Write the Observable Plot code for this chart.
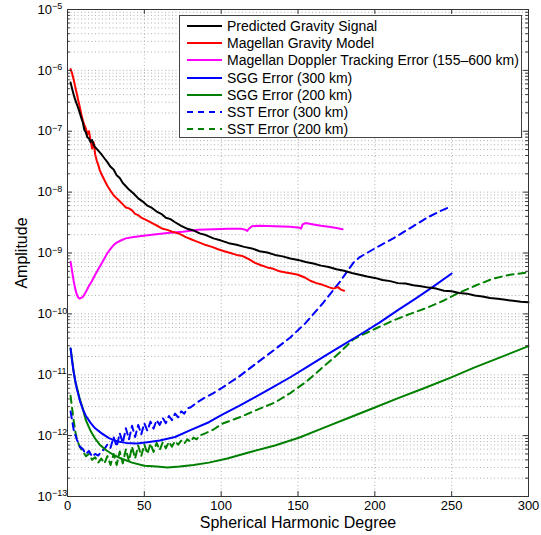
<!DOCTYPE html>
<html><head><meta charset="utf-8">
<script src="https://cdn.jsdelivr.net/npm/d3@7"></script>
<script src="https://cdn.jsdelivr.net/npm/@observablehq/plot@0.6"></script>
<style>
body{margin:0;background:#fff;}
#wrap{position:relative;width:541px;height:535px;font-family:"Liberation Sans",Arial,Helvetica,sans-serif;}
#legend{position:absolute;left:179px;top:15px;width:341px;height:120px;border:1px solid #444;background:#fff;padding-top:1px;}
.row{height:17.3px;display:flex;align-items:center;font-size:14px;color:#000;white-space:nowrap;}
.row svg{margin-left:7px;margin-right:5px;flex:none;}
</style></head><body><div id="wrap"></div>
<script>
const xTicks = [0, 50, 100, 150, 200, 250, 300];
const yMajor = [1e-13, 1e-12, 1e-11, 1e-10, 1e-9, 1e-8, 1e-7, 1e-6, 1e-5];

const predictedSignal = [[2,6.3e-7],[3,5.0e-7],[4,4.0e-7],[5,3.3e-7],[6,2.8e-7],[7,2.4e-7],[8,2.0e-7],[9,1.66e-7],[10,1.38e-7],[11,1.05e-7],[12,9.5e-8],[13,7.9e-8],[14,7.6e-8],[15,6.6e-8],[16,7.2e-8],[17,6.0e-8],[18,5.5e-8],[20,4.8e-8],[22,4.2e-8],[24,3.6e-8],[26,3.1e-8],[28,2.6e-8],[30,2.35e-8],[32,1.9e-8],[34,1.7e-8],[36,1.41e-8],[38,1.25e-8],[40,1.1e-8],[43,9.5e-9],[46,7.9e-9],[49,7.0e-9],[52,6.0e-9],[55,5.5e-9],[58,4.8e-9],[61,4.4e-9],[64,3.8e-9],[67,3.6e-9],[70,3.2e-9],[74,2.8e-9],[78,2.5e-9],[82,2.35e-9],[86,2.1e-9],[90,1.97e-9],[95,1.74e-9],[100,1.6e-9],[105,1.45e-9],[110,1.37e-9],[115,1.26e-9],[120,1.19e-9],[125,1.07e-9],[130,1.02e-9],[135,9.3e-10],[140,8.8e-10],[145,8.1e-10],[150,7.7e-10],[155,7.1e-10],[160,6.7e-10],[165,6.2e-10],[170,5.9e-10],[175,5.4e-10],[180,5.1e-10],[185,4.7e-10],[190,4.4e-10],[195,4.1e-10],[200,3.9e-10],[205,3.6e-10],[210,3.45e-10],[215,3.2e-10],[220,3.15e-10],[225,2.95e-10],[230,2.85e-10],[235,2.7e-10],[240,2.6e-10],[245,2.4e-10],[250,2.35e-10],[255,2.2e-10],[260,2.15e-10],[265,2.0e-10],[270,1.93e-10],[275,1.82e-10],[280,1.77e-10],[285,1.7e-10],[290,1.64e-10],[295,1.58e-10],[300,1.55e-10]];

const magellanModel = [[2,1.05e-6],[3,8.9e-7],[4,7.1e-7],[5,5.4e-7],[6,4.2e-7],[7,3.2e-7],[8,2.5e-7],[9,1.9e-7],[10,1.5e-7],[11,1.26e-7],[12,1.1e-7],[13,8.9e-8],[14,1.0e-7],[15,7.1e-8],[16,5.2e-8],[17,6.6e-8],[18,4.2e-8],[19,3.3e-8],[20,2.8e-8],[21,2.3e-8],[22,2.0e-8],[24,1.58e-8],[26,1.26e-8],[28,1.05e-8],[30,8.9e-9],[32,7.9e-9],[34,7.1e-9],[36,6.3e-9],[38,5.6e-9],[40,5.4e-9],[42,5.0e-9],[44,4.4e-9],[46,4.2e-9],[48,3.8e-9],[50,3.6e-9],[53,3.3e-9],[56,3.0e-9],[59,2.75e-9],[62,2.5e-9],[65,2.4e-9],[68,2.24e-9],[71,2.14e-9],[74,2.0e-9],[77,1.82e-9],[80,1.7e-9],[83,1.58e-9],[86,1.48e-9],[90,1.35e-9],[94,1.26e-9],[98,1.15e-9],[102,1.07e-9],[106,1.0e-9],[110,9.3e-10],[114,8.9e-10],[118,7.9e-10],[122,6.9e-10],[126,6.3e-10],[130,5.8e-10],[134,5.5e-10],[138,5.0e-10],[142,4.8e-10],[146,4.6e-10],[150,4.4e-10],[154,4.0e-10],[158,3.5e-10],[162,3.2e-10],[166,3.0e-10],[170,2.75e-10],[173,2.6e-10],[176,2.75e-10],[178,2.5e-10],[180,2.4e-10]];

const dopplerError = [[2,7.2e-10],[3,5.0e-10],[4,3.5e-10],[5,2.6e-10],[6,2.1e-10],[7,1.86e-10],[8,1.78e-10],[10,1.9e-10],[12,2.3e-10],[14,2.9e-10],[16,3.5e-10],[18,4.4e-10],[20,5.4e-10],[22,6.6e-10],[24,8.1e-10],[26,1.0e-9],[28,1.17e-9],[30,1.35e-9],[32,1.48e-9],[35,1.62e-9],[38,1.74e-9],[42,1.82e-9],[48,1.9e-9],[55,2.0e-9],[65,2.14e-9],[75,2.24e-9],[85,2.4e-9],[95,2.45e-9],[105,2.5e-9],[113,2.5e-9],[116,2.4e-9],[117,2.3e-9],[118,2.5e-9],[120,2.75e-9],[125,2.8e-9],[135,2.75e-9],[145,2.7e-9],[151,2.6e-9],[152,2.5e-9],[153,2.95e-9],[155,3.1e-9],[160,2.95e-9],[165,2.8e-9],[170,2.7e-9],[175,2.57e-9],[179,2.45e-9]];

const sgg300 = [[2,2.7e-11],[3,1.66e-11],[4,1.12e-11],[5,8.1e-12],[6,6.0e-12],[8,3.8e-12],[10,2.7e-12],[12,2.1e-12],[15,1.62e-12],[18,1.32e-12],[22,1.1e-12],[27,9.1e-13],[32,8.1e-13],[38,7.6e-13],[45,7.4e-13],[52,7.8e-13],[60,8.3e-13],[70,9.5e-13],[80,1.23e-12],[92,1.66e-12],[101,2.24e-12],[112,3.1e-12],[123,4.4e-12],[134,6.3e-12],[145,9.1e-12],[156,1.35e-11],[167,2.0e-11],[178,2.95e-11],[190,4.5e-11],[203,7.2e-11],[215,1.15e-10],[227,1.82e-10],[238,2.8e-10],[250,4.6e-10]];

const sgg200 = [[2,2.7e-11],[3,1.78e-11],[4,1.12e-11],[5,7.9e-12],[6,6.3e-12],[8,4.0e-12],[10,2.75e-12],[12,1.78e-12],[15,1.2e-12],[18,8.9e-13],[21,7.1e-13],[25,5.8e-13],[30,4.8e-13],[35,4.2e-13],[42,3.6e-13],[50,3.2e-13],[58,3.1e-13],[65,3.0e-13],[73,3.1e-13],[82,3.3e-13],[92,3.6e-13],[104,4.2e-13],[119,5.4e-13],[135,6.9e-13],[151,9.3e-13],[167,1.35e-12],[184,2.0e-12],[200,2.9e-12],[216,4.2e-12],[232,6.0e-12],[249,8.9e-12],[265,1.32e-11],[282,1.95e-11],[300,2.95e-11]];

const sst300 = [[2,2.5e-12],[3,1.78e-12],[4,1.26e-12],[6,8.7e-13],[8,6.6e-13],[10,6.0e-13],[12,5.0e-13],[14,5.6e-13],[16,4.5e-13],[18,5.0e-13],[20,4.7e-13],[22,5.5e-13],[24,6.0e-13],[26,7.2e-13],[28,6.3e-13],[30,9.5e-13],[32,6.6e-13],[34,1.1e-12],[36,7.6e-13],[38,1.32e-12],[40,8.7e-13],[42,1.45e-12],[44,9.5e-13],[46,1.5e-12],[48,1.05e-12],[50,1.6e-12],[52,1.2e-12],[54,1.7e-12],[56,1.3e-12],[58,1.8e-12],[60,1.5e-12],[62,1.95e-12],[64,1.6e-12],[66,2.1e-12],[68,1.8e-12],[70,2.3e-12],[72,2.0e-12],[74,2.5e-12],[76,2.3e-12],[78,2.8e-12],[80,2.9e-12],[85,3.6e-12],[90,4.3e-12],[95,5.0e-12],[101,6.2e-12],[112,9.5e-12],[123,1.55e-11],[134,2.5e-11],[145,4.1e-11],[155,7.1e-11],[166,1.48e-10],[177,3.3e-10],[186,6.9e-10],[190,8.5e-10],[201,1.23e-9],[212,1.74e-9],[223,2.57e-9],[234,3.8e-9],[242,4.8e-9],[250,5.9e-9]];

const sst200 = [[2,4.5e-12],[3,2.8e-12],[4,1.78e-12],[5,1.2e-12],[6,8.9e-13],[8,6.5e-13],[10,5.5e-13],[12,4.6e-13],[14,5.0e-13],[16,4.0e-13],[18,4.4e-13],[20,3.6e-13],[22,4.2e-13],[24,3.5e-13],[26,4.6e-13],[28,3.3e-13],[30,5.0e-13],[32,3.3e-13],[34,5.5e-13],[36,3.5e-13],[38,6.0e-13],[40,3.8e-13],[42,6.6e-13],[44,4.2e-13],[46,6.9e-13],[48,4.6e-13],[50,7.2e-13],[52,5.0e-13],[54,7.4e-13],[56,5.4e-13],[58,7.6e-13],[60,5.8e-13],[62,7.8e-13],[64,6.2e-13],[66,7.9e-13],[68,6.6e-13],[70,8.1e-13],[72,7.1e-13],[74,8.3e-13],[76,7.4e-13],[78,8.7e-13],[80,7.9e-13],[82,9.3e-13],[84,8.7e-13],[86,1.0e-12],[90,1.1e-12],[95,1.26e-12],[101,1.58e-12],[112,2.0e-12],[124,2.7e-12],[135,3.5e-12],[145,5.0e-12],[156,7.9e-12],[166,1.32e-11],[177,2.3e-11],[186,3.8e-11],[190,4.3e-11],[201,5.8e-11],[212,7.8e-11],[223,1.0e-10],[234,1.26e-10],[245,1.66e-10],[255,2.24e-10],[266,2.95e-10],[277,3.8e-10],[288,4.4e-10],[300,4.8e-10]];

const series = [
  {name: "Predicted Gravity Signal", data: predictedSignal, color: "#000000", dash: null},
  {name: "Magellan Gravity Model", data: magellanModel, color: "#ff0000", dash: null},
  {name: "Magellan Doppler Tracking Error (155\u2013600 km)", data: dopplerError, color: "#ff00ff", dash: null},
  {name: "SGG Error (300 km)", data: sgg300, color: "#0000ff", dash: null},
  {name: "SGG Error (200 km)", data: sgg200, color: "#008000", dash: null},
  {name: "SST Error (300 km)", data: sst300, color: "#0000ff", dash: "7,5"},
  {name: "SST Error (200 km)", data: sst200, color: "#008000", dash: "7,5"}
];

const yMinor = [];
yMajor.slice(0, -1).forEach(m => { for (let k = 2; k <= 9; k++) yMinor.push(k * m); });
const yGrid = yMajor.concat(yMinor);
const gridColor = "#b0b0b0";

const lineMarks = series.slice().reverse().map(s => Plot.line(s.data, {
  x: d => d[0], y: d => d[1], stroke: s.color, strokeWidth: 2,
  strokeDasharray: s.dash ?? undefined, strokeLinejoin: "round"
}));

const plot = Plot.plot({
  width: 541, height: 535,
  marginLeft: 67, marginRight: 13, marginTop: 9, marginBottom: 39,
  style: {fontFamily: '"Liberation Sans", Arial, Helvetica, sans-serif', fontSize: "13px", color: "#000", background: "#fff"},
  x: {domain: [0, 300]},
  y: {type: "log", domain: [1e-13, 1e-5]},
  marks: [
    Plot.ruleY(yGrid, {stroke: gridColor, strokeDasharray: "1,2.5"}),
    Plot.ruleX(xTicks, {stroke: gridColor, strokeDasharray: "1,2.5"}),
    ...lineMarks,
    Plot.ruleX(xTicks, {y1: 1e-13, y2: 1.2e-13, stroke: "#333"}),
    Plot.ruleX(xTicks, {y1: 1e-5 / 1.2, y2: 1e-5, stroke: "#333"}),
    Plot.ruleY(yMajor, {x1: 0, x2: 3.2, stroke: "#333"}),
    Plot.ruleY(yMajor, {x1: 296.8, x2: 300, stroke: "#333"}),
    Plot.ruleY(yMinor, {x1: 0, x2: 1.8, stroke: "#333"}),
    Plot.ruleY(yMinor, {x1: 298.2, x2: 300, stroke: "#333"}),
    Plot.frame({stroke: "#333"}),
    Plot.axisX({ticks: xTicks, tickSize: 0, tickPadding: 4, tickFormat: d => String(d), fontSize: 13,
      label: "Spherical Harmonic Degree", labelAnchor: "center", labelOffset: 31, labelArrow: "none"}),
    Plot.axisY({ticks: yMajor, tickSize: 0, tickPadding: 30, textAnchor: "start", fontSize: 13,
      tickFormat: d => String(Math.round(Math.log10(d))),
      label: "Amplitude", labelAnchor: "center", labelOffset: 52, labelArrow: "none"})
  ]
});

const svg = d3.select(plot.tagName === "svg" ? plot : plot.querySelector("svg"));
svg.selectAll('g[aria-label="y-axis tick label"] text').each(function () {
  const t = d3.select(this);
  const e = t.text().replace("-", "\u2212");
  t.text("10");
  t.append("tspan").attr("dy", "-0.5em").attr("font-size", "9px").text(e);
});
svg.selectAll('g[aria-label="x-axis tick label"] text, g[aria-label="y-axis tick label"] text').attr("font-size", "13px");
svg.selectAll('g[aria-label="x-axis label"] text, g[aria-label="y-axis label"] text').attr("font-size", "16px");

const wrap = document.getElementById("wrap");
wrap.appendChild(plot);

const legend = document.createElement("div");
legend.id = "legend";
series.forEach(s => {
  const row = document.createElement("div");
  row.className = "row";
  const ns = "http://www.w3.org/2000/svg";
  const sv = document.createElementNS(ns, "svg");
  sv.setAttribute("width", "35"); sv.setAttribute("height", "6");
  const ln = document.createElementNS(ns, "line");
  ln.setAttribute("x1", "0"); ln.setAttribute("x2", "35");
  ln.setAttribute("y1", "3"); ln.setAttribute("y2", "3");
  ln.setAttribute("stroke", s.color); ln.setAttribute("stroke-width", "2");
  if (s.dash) ln.setAttribute("stroke-dasharray", "6,5");
  sv.appendChild(ln);
  const tx = document.createElement("span");
  tx.textContent = s.name;
  row.appendChild(sv); row.appendChild(tx);
  legend.appendChild(row);
});
wrap.appendChild(legend);
</script></body></html>
